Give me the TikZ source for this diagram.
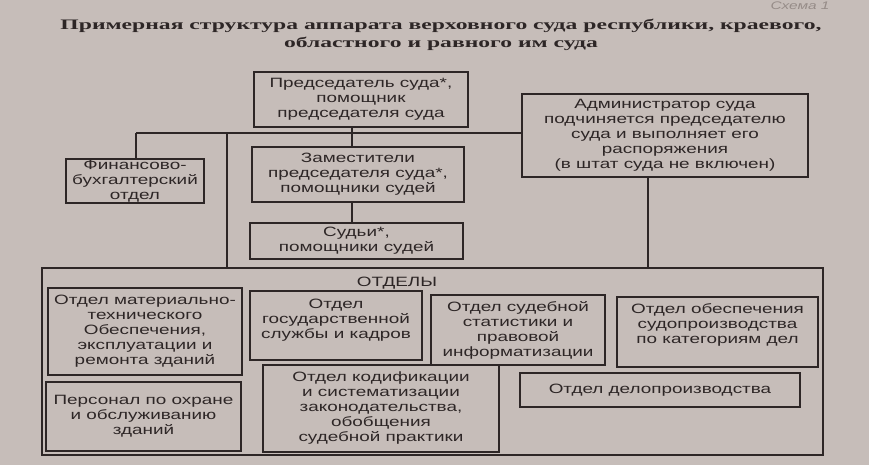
\documentclass[tikz,border=0pt]{standalone}
\usepackage{fontspec}
\setmainfont{Liberation Sans}[FakeStretch=1.4]
\newfontfamily\titlefont{Liberation Serif}[FakeStretch=1.63]
\definecolor{paper}{RGB}{198,189,185}
\definecolor{ink}{RGB}{45,38,38}
\definecolor{faint}{RGB}{150,140,136}
\begin{document}
\begin{tikzpicture}[x=1pt,y=-1pt,
  every node/.style={inner sep=0pt,outer sep=0pt},
  box/.style={draw=ink,line width=1.2pt,align=center,text=ink,
    font=\fontsize{13.5}{15}\selectfont},
  txt/.style={align=center,text=ink,font=\fontsize{13.5}{15}\selectfont},
  conn/.style={draw=ink,line width=1.2pt}]
\fill[paper] (0,0) rectangle (869,465);
\useasboundingbox (0,0) rectangle (869,465);
% title
\node[text=faint,font=\itshape\fontsize{11}{11}\selectfont] (schema) at (800,6) {Схема 1};
\node[text=ink,align=center,font=\titlefont\bfseries\fontsize{14.5}{18}\selectfont] (title) at (441,35)
  {Примерная структура аппарата верховного суда республики, краевого,\\ областного и равного им суда};
% upper boxes
\node[box,minimum width=214,minimum height=55] (chair) at (361,99.5)
  {Председатель суда*,\\ помощник\\ председателя суда};
\node[box,minimum width=286,minimum height=83] (admin) at (665,135.5)
  {Администратор суда\\ подчиняется председателю\\ суда и выполняет его\\ распоряжения\\ (в штат суда не включен)};
\node[box,minimum width=138,minimum height=44] (fin) at (135,181)
  {Финансово-\\ бухгалтерский\\ отдел};
\node[box,minimum width=212,minimum height=55] (dep) at (358,174.5)
  {Заместители\\ председателя суда*,\\ помощники судей};
\node[box,minimum width=213,minimum height=36] (judges) at (356.5,241)
  {Судьи*,\\ помощники судей};
% outer container
\node[draw=ink,line width=1.2pt,minimum width=781,minimum height=187] (outer) at (432.5,361.5) {};
\node[txt] (otdely) at (397,283) {ОТДЕЛЫ};
% departments
\node[box,minimum width=194,minimum height=87] (dA) at (145,331.5)
  {Отдел материально-\\ технического\\ Обеспечения,\\ эксплуатации и\\ ремонта зданий};
\node[box,minimum width=172,minimum height=69] (dB) at (336,325.5) {};
\node[txt] (dBt) at (336,320) {Отдел\\ государственной\\ службы и кадров};
\node[box,minimum width=174,minimum height=70] (dC) at (518,330)
  {Отдел судебной\\ статистики и\\ правовой\\ информатизации};
\node[box,minimum width=201,minimum height=70] (dD) at (717.5,332) {};
\node[txt] (dDt) at (717.5,325) {Отдел обеспечения\\ судопроизводства\\ по категориям дел};
\node[box,minimum width=195,minimum height=69] (dE) at (143.5,416.5)
  {Персонал по охране\\ и обслуживанию\\ зданий};
\node[box,minimum width=236,minimum height=87] (dF) at (381,408.5)
  {Отдел кодификации\\ и систематизации\\ законодательства,\\ обобщения\\ судебной практики};
\node[box,minimum width=280,minimum height=34] (dG) at (660,390)
  {Отдел делопроизводства};
% connectors
\coordinate (busL) at (136,133);
\coordinate (busK) at (227,133);
\coordinate (vC) at (352,133);
\coordinate (vA) at (648,177);
\draw[conn] (busL) -- (admin.west |- busL);
\draw[conn] (busL) -- (fin.north -| busL);
\draw[conn] (busK) -- (outer.north -| busK);
\draw[conn] (chair.south -| vC) -- (dep.north -| vC);
\draw[conn] (dep.south -| vC) -- (judges.north -| vC);
\draw[conn] (admin.south -| vA) -- (outer.north -| vA);
\end{tikzpicture}
\end{document}
